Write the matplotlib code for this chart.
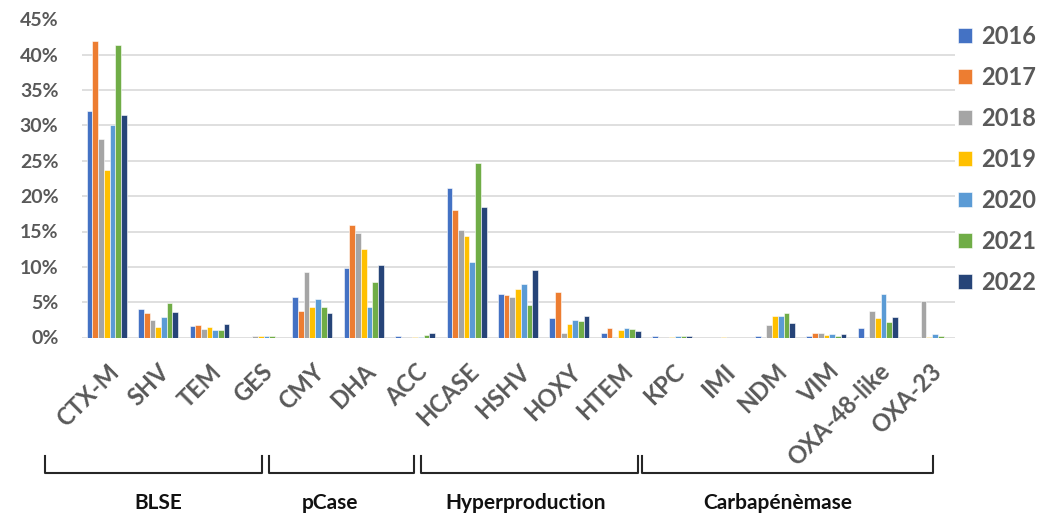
import matplotlib.pyplot as plt
import matplotlib.transforms as mtransforms
from matplotlib.ticker import FuncFormatter, MultipleLocator

plt.rcParams['font.family'] = ['Lato', 'DejaVu Sans']

categories = ['CTX-M', 'SHV', 'TEM', 'GES', 'CMY', 'DHA', 'ACC', 'HCASE', 'HSHV',
              'HOXY', 'HTEM', 'KPC', 'IMI', 'NDM', 'VIM', 'OXA-48-like', 'OXA-23']
years = ['2016', '2017', '2018', '2019', '2020', '2021', '2022']
colors = ['#4472C4', '#ED7D31', '#A5A5A5', '#FFC000', '#5B9BD5', '#70AD47', '#264478']

# pourcentages par annee
v2016 = [32.0, 4.0, 1.6, 0, 5.8, 9.9, 0.2, 21.1, 6.2, 2.7, 0.6, 0.2, 0, 0.15, 0.2, 1.4, 0]
v2017 = [42.0, 3.4, 1.75, 0, 3.8, 15.9, 0, 18.1, 6.0, 6.4, 1.3, 0, 0, 0, 0.7, 0, 0]
v2018 = [28.1, 2.5, 1.2, 0.2, 9.2, 14.8, 0, 15.2, 5.8, 0.65, 0, 0, 0, 1.7, 0.7, 3.8, 5.2]
v2019 = [23.7, 1.5, 1.5, 0.2, 4.3, 12.5, 0.1, 14.4, 6.9, 1.85, 1.1, 0.1, 0.1, 3.0, 0.3, 2.75, 0.1]
v2020 = [30.0, 2.9, 1.0, 0.2, 5.5, 4.3, 0.1, 10.7, 7.6, 2.5, 1.4, 0.2, 0, 3.0, 0.5, 6.2, 0.5]
v2021 = [41.4, 4.9, 1.0, 0.2, 4.3, 7.9, 0.4, 24.7, 4.6, 2.3, 1.2, 0.2, 0, 3.4, 0.2, 2.2, 0.2]
v2022 = [31.5, 3.6, 1.85, 0, 3.4, 10.2, 0.65, 18.4, 9.5, 3.1, 0.9, 0.2, 0, 2.1, 0.5, 2.9, 0]
series = [v2016, v2017, v2018, v2019, v2020, v2021, v2022]

groups = ['BLSE', 'pCase', 'Hyperproduction', 'Carbapénèmase']
group_spans = [(-1.2, 3.02), (3.15, 5.98), (6.12, 10.34), (10.42, 16.08)]
group_label_x = [1.0, 4.35, 8.15, 13.05]

fig = plt.figure(figsize=(10.43, 5.17), dpi=100)
ax = fig.add_axes([82 / 1043, 1 - 337.5 / 517, 873 / 1043, 318 / 517])

w = 0.111
x = list(range(len(categories)))
for i, (year, vals) in enumerate(zip(years, series)):
    pos = [xi + (i - 3) * w for xi in x]
    ax.bar(pos, vals, width=w, color=colors[i], edgecolor='white', linewidth=0.4,
           label=year, zorder=3)

ax.set_xlim(-0.48, 16.5)
ax.set_ylim(0, 45)
ax.yaxis.set_major_locator(MultipleLocator(5))
ax.yaxis.set_major_formatter(FuncFormatter(lambda v, p: f'{v:.0f}%'))
ax.grid(axis='y', color='#D9D9D9', linewidth=1.2, zorder=0)
for s in ax.spines.values():
    s.set_visible(False)
ax.tick_params(axis='both', length=0)
ax.tick_params(axis='y', labelsize=14, labelcolor='#595959', pad=17)
for t in ax.get_yticklabels():
    t.set_fontweight('bold')

ax.set_xticks(x)
ax.set_xticklabels(categories, rotation=45, ha='right', rotation_mode='anchor',
                   fontsize=17, fontweight='bold', color='#595959')
ax.tick_params(axis='x', pad=16)

leg = fig.legend(loc='upper left', bbox_to_anchor=(958 / 1043, 1 - 25 / 517),
                 frameon=False, fontsize=17, handlelength=0.6, handleheight=0.6,
                 handletextpad=0.4, labelspacing=0.76, borderpad=0, borderaxespad=0)
for t in leg.get_texts():
    t.set_fontweight('bold')
    t.set_color('#595959')

# accolades des groupes
trans = mtransforms.blended_transform_factory(ax.transData, fig.transFigure)
y_top = 1 - 456 / 517
y_bot = 1 - 473 / 517
for (a, b) in group_spans:
    ax.plot([a, a, b, b], [y_top, y_bot, y_bot, y_top], transform=trans,
            color='#262626', linewidth=1.5, clip_on=False)
for name, gx in zip(groups, group_label_x):
    ax.text(gx, 1 - 503 / 517, name, transform=trans, ha='center', va='center',
            fontsize=15, fontweight='bold', color='#111111')

fig.savefig('out.png', dpi=100)
